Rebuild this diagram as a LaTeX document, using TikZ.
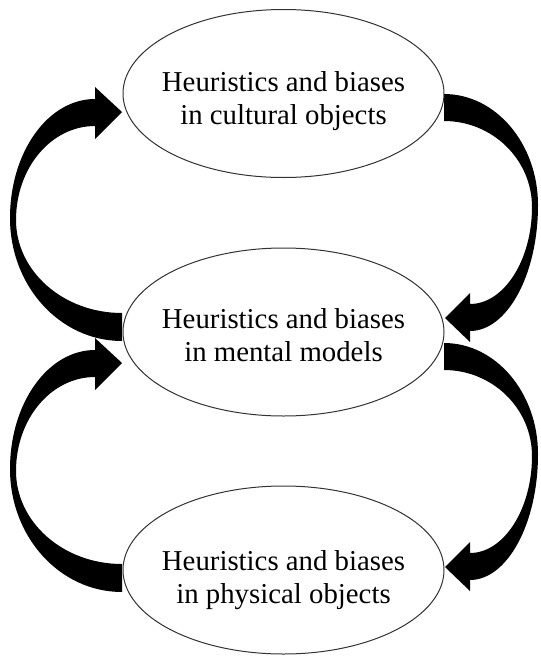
\documentclass[tikz,border=0pt]{standalone}
\usepackage{fontspec}
\setmainfont{Liberation Serif}
\usetikzlibrary{shapes.geometric}
\begin{document}
\begin{tikzpicture}[x=0.75pt,y=-0.75pt,
  level/.style={ellipse, draw=black!80, fill=white, line width=0.75pt,
    minimum width=240.75pt, minimum height=126pt, inner sep=0pt},
  caption/.style={align=center, inner sep=0pt,
    font=\fontsize{21.6}{24.75}\selectfont},
  loop arrow/.style={fill=black, draw=none}]
\useasboundingbox (0,0) rectangle (540,657);

% crescent arrows on the left, bending upwards
\def\leftloop{(122,341) .. controls (60,341) and (10,286) .. (10,218)
  .. controls (10,152) and (48,99) .. (95,99)
  -- (95,87) -- (122,112) -- (95,139) -- (95,126)
  .. controls (51,126) and (16,168) .. (16,220)
  .. controls (16,271) and (63,313) .. (122,313) -- cycle}
% crescent arrows on the right, bending downwards
\def\rightloop{(444,94) .. controls (496,94) and (538,144) .. (538,205)
  .. controls (538,275) and (507,331) .. (470,331)
  -- (470,342) -- (445,318) -- (470,293) -- (470,304)
  .. controls (504,304) and (532,260) .. (532,207)
  .. controls (532,160) and (493,121) .. (444,121) -- cycle}

\fill[loop arrow] \leftloop;
\fill[loop arrow, shift={(0,251)}] \leftloop;
\fill[loop arrow] \rightloop;
\fill[loop arrow, shift={(0,249)}] \rightloop;

% the three levels
\node[level] (cultural) at (283.5,93.5) {};
\node[level] (mental) at (283.5,332) {};
\node[level] (physical) at (283.5,570) {};

\node[caption] (cultural text) at (283.5,101.5) {Heuristics and biases\\in cultural objects};
\node[caption] (mental text) at (283.5,335.5) {Heuristics and biases\\in mental models};
\node[caption] (physical text) at (283.5,580) {Heuristics and biases\\in physical objects};
\end{tikzpicture}
\end{document}
